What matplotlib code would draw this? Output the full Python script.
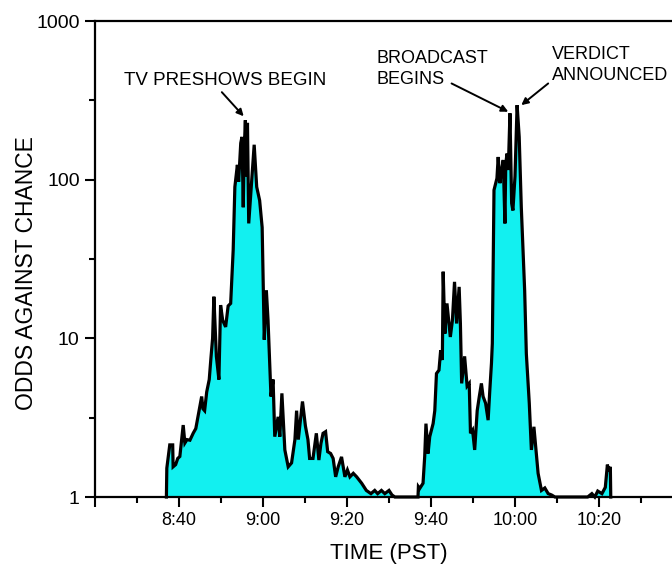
import matplotlib
matplotlib.use("Agg")
import matplotlib.pyplot as plt
from matplotlib.ticker import FixedLocator, NullFormatter

# time in minutes after 8:00 AM PST, odds against chance
minutes = [
    37.0, 37.1, 37.8, 38.5, 38.6, 39.2, 39.7, 40.2, 41.0, 41.4, 41.9, 42.6,
    43.4, 44.0, 44.7, 45.4, 45.7, 46.1, 46.6, 47.2, 47.6, 48.0, 48.3, 48.9,
    49.5, 49.9, 50.4, 51.1, 51.7, 52.3, 52.9, 53.3, 53.9, 54.2, 54.7, 55.0,
    55.3, 55.5, 55.8, 56.1, 56.3, 56.6, 57.1, 57.9, 58.5, 59.2, 59.8, 60.3,
    60.8, 61.2, 61.9, 62.4, 62.8, 63.6, 64.0, 64.5, 65.2, 66.0, 66.8, 67.6,
    68.0, 68.4, 69.4, 70.1, 70.7, 71.1, 71.9, 72.7, 73.3, 73.8, 74.3, 74.9,
    75.4, 76.1, 76.7, 77.3, 77.9, 78.7, 79.5, 80.1, 80.7, 81.5, 82.3, 83.5,
    84.6, 85.7, 86.6, 87.3, 88.2, 89.0, 90.0, 90.7, 91.4,
    96.9, 97.0, 97.3, 98.1, 98.5, 98.8, 99.3, 99.7, 100.5, 100.9, 101.3,
    101.9, 102.3, 102.7, 102.9, 103.3, 103.8, 104.6, 105.1, 105.6, 106.1,
    106.7, 107.0, 107.3, 108.0, 108.6, 109.1, 109.4, 109.9, 110.4, 111.0,
    111.5, 112.0, 112.4, 113.0, 113.6, 114.0, 114.4, 114.6, 115.0, 115.4,
    115.7, 116.0, 116.4, 116.8, 117.2, 117.6, 117.8, 118.1, 118.4, 118.8,
    119.2, 119.5, 120.0, 120.5, 121.0, 121.5, 122.3, 122.7, 123.4, 123.9,
    124.5, 125.0, 125.5, 126.3, 127.1, 127.9, 128.7, 129.5,
    137.3, 138.3, 139.0, 139.7, 140.7, 141.5, 142.0, 142.3, 142.7, 142.8,
]
odds = [
    1.0, 1.52, 2.13, 2.13, 1.55, 1.6, 1.75, 1.8, 2.84, 2.19, 2.3, 2.28,
    2.53, 2.7, 3.4, 4.3, 3.6, 3.5, 4.6, 5.5, 7.5, 10.0, 18.3, 7.7,
    5.5, 16.2, 13.0, 11.8, 16.0, 16.6, 36.0, 90.0, 124.0, 97.0, 170.0, 186.0,
    67.0, 147.0, 237.0, 105.0, 228.0, 53.0, 82.0, 166.0, 90.0, 74.0, 50.0, 9.8,
    20.0, 13.0, 4.3, 5.5, 2.4, 3.2, 2.4, 4.5, 1.98, 1.55, 1.64, 2.3,
    3.5, 2.3, 4.0, 2.8, 2.3, 1.75, 1.75, 2.52, 1.71, 2.18, 2.52, 2.58,
    1.93, 1.88, 1.75, 1.34, 1.55, 1.79, 1.34, 1.48, 1.34, 1.41, 1.34, 1.22,
    1.1, 1.05, 1.1, 1.05, 1.1, 1.05, 1.1, 1.03, 1.0,
    1.0, 1.16, 1.13, 1.22, 1.8, 2.9, 1.88, 2.4, 2.9, 3.5, 6.0,
    6.3, 8.4, 7.3, 26.3, 10.7, 16.6, 10.2, 13.0, 22.7, 12.4,
    21.1, 12.4, 5.2, 7.7, 5.0, 5.2, 2.52, 2.64, 1.98, 3.5,
    4.3, 5.2, 4.3, 3.9, 3.05, 4.7, 7.0, 9.3, 86.0, 95.0,
    102.0, 139.0, 95.0, 115.0, 133.0, 53.0, 126.0, 146.0, 115.0, 262.0,
    71.0, 64.0, 105.0, 295.0, 186.0, 67.0, 20.0, 8.0, 3.9, 1.98,
    2.77, 1.98, 1.41, 1.1, 1.14, 1.05, 1.03, 1.0,
    1.0, 1.05, 1.0, 1.09, 1.05, 1.15, 1.6, 1.45, 1.55, 1.0,
]

x_major = [20, 40, 60, 80, 100, 120, 140, 160]
x_labels = ["", "8:40", "9:00", "9:20", "9:40", "10:00", "10:20", ""]
x_minor = [30, 50, 70, 90, 110, 130, 150]
y_major = [1, 10, 100, 1000]
y_labels = ["1", "10", "100", "1000"]
y_minor = [3.16, 31.6, 316]

plt.rcParams["font.family"] = ["Liberation Sans", "DejaVu Sans"]

fig = plt.figure(figsize=(6.72, 5.69), dpi=100)
# right end of the x axis runs slightly past the image edge
ax = fig.add_axes([95 / 672, 72 / 569, 588 / 672, 476 / 569])

ax.fill_between(minutes, 1, odds, color="#12F0F0", linewidth=0)
ax.plot(minutes, odds, color="black", linewidth=2.3, clip_on=False,
        solid_joinstyle="miter")

ax.set_yscale("log")
ax.set_ylim(1, 1000)
ax.set_xlim(20, 160)

ax.set_xticks(x_major, x_labels)
ax.xaxis.set_minor_locator(FixedLocator(x_minor))
ax.set_yticks(y_major, y_labels)
ax.yaxis.set_minor_locator(FixedLocator(y_minor))
ax.yaxis.set_minor_formatter(NullFormatter())

ax.tick_params(which="major", direction="out", length=7, width=1.5,
               labelsize=13, pad=4)
ax.tick_params(axis="y", which="major", labelsize=14)
ax.tick_params(which="minor", direction="out", length=4.5, width=1.5)
for s in ax.spines.values():
    s.set_linewidth(1.6)

ax.set_xlabel("TIME (PST)", fontsize=16, labelpad=10)
fig.text(27 / 672, 0.52, "ODDS AGAINST CHANCE", rotation=90,
         ha="center", va="center", fontsize=16.5)

arrow = dict(arrowstyle="-|>", color="black", lw=1.4,
             mutation_scale=10, shrinkA=0, shrinkB=0)
ax.text(50.9, 424, "TV PRESHOWS BEGIN", ha="center", va="center",
        fontsize=13.5)
ax.annotate("", xy=(55.4, 251), xytext=(50.2, 356), arrowprops=arrow)

ax.text(87.0, 498, "BROADCAST\nBEGINS", ha="left", va="center",
        fontsize=13, linespacing=1.35)
ax.annotate("", xy=(118.4, 268), xytext=(104.9, 404), arrowprops=arrow)

ax.text(128.7, 527, "VERDICT\nANNOUNCED", ha="left", va="center",
        fontsize=13, linespacing=1.35)
ax.annotate("", xy=(121.5, 295), xytext=(127.9, 404), arrowprops=arrow)

fig.savefig("out.png", dpi=100)
